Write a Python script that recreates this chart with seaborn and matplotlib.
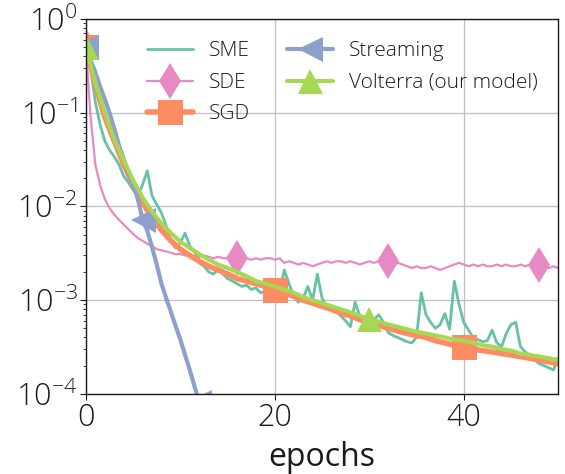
import numpy as np
import matplotlib
matplotlib.use("Agg")
import matplotlib.pyplot as plt
import seaborn as sns

# epochs sampled every half epoch (streaming only runs to 12.5)
epochs = np.arange(0, 50.5, 0.5)
epochs_stream = np.arange(0, 13.0, 0.5)
epochs_coarse = np.arange(0, 51, 1)

sme = [0.5, 0.3, 0.13, 0.075, 0.05, 0.04, 0.034, 0.028, 0.021, 0.018,
       0.015, 0.013, 0.017, 0.024, 0.013, 0.0105, 0.0085, 0.0062, 0.0042, 0.0036,
       0.0041, 0.0052, 0.0038, 0.0033, 0.0025, 0.0023, 0.002, 0.0019, 0.0021, 0.0019,
       0.0017, 0.0016, 0.0015, 0.0014, 0.00145, 0.0013, 0.00135, 0.0012, 0.00125, 0.0012,
       0.00115, 0.0012, 0.0021, 0.0015, 0.0011, 0.00095, 0.00105, 0.0014, 0.001, 0.0019,
       0.00105, 0.00085, 0.0008, 0.00075, 0.00068, 0.0006, 0.00052, 0.00095, 0.00068, 0.0006,
       0.00056, 0.00062, 0.0007, 0.00058, 0.00045, 0.00042, 0.0004, 0.00038, 0.00036, 0.00035,
       0.0004, 0.0012, 0.0007, 0.00058, 0.0005, 0.00055, 0.00072, 0.00049, 0.0016, 0.0009,
       0.00058, 0.00048, 0.0004, 0.00038, 0.00036, 0.00037, 0.00048, 0.00035, 0.00032, 0.00044,
       0.00055, 0.00058, 0.00032, 0.00028, 0.00026, 0.00023, 0.00021, 0.0002, 0.00019, 0.00018,
       0.00024]

sde = [0.5, 0.09, 0.028, 0.017, 0.012, 0.0096, 0.0082, 0.0072, 0.0064, 0.0057,
       0.0051, 0.0046, 0.0043, 0.0040, 0.0038, 0.0035, 0.0034, 0.0033, 0.0032, 0.0031,
       0.0031, 0.0030, 0.0030, 0.0029, 0.0029, 0.0030, 0.0029, 0.0028, 0.0029, 0.0028,
       0.0028, 0.0029, 0.0028, 0.0027, 0.0028, 0.0027, 0.0028, 0.0027, 0.0028, 0.0028,
       0.0027, 0.0028, 0.0025, 0.0026, 0.0025, 0.0024, 0.0025, 0.0024, 0.0023, 0.0024,
       0.0025, 0.0026, 0.0025, 0.0026, 0.0026, 0.0025, 0.0026, 0.0025, 0.0024, 0.0025,
       0.0026, 0.0025, 0.0026, 0.0026, 0.0026, 0.0025, 0.0025, 0.0024, 0.0023, 0.0022,
       0.0023, 0.0022, 0.0022, 0.0023, 0.0022, 0.0021, 0.0022, 0.0023, 0.0024, 0.0025,
       0.0024, 0.0023, 0.0024, 0.0023, 0.0024, 0.0023, 0.0023, 0.0024, 0.0023, 0.0024,
       0.0023, 0.0023, 0.0024, 0.0023, 0.0024, 0.0023, 0.0024, 0.0023, 0.0022, 0.0023,
       0.0022]

sgd = [0.5, 0.2, 0.09, 0.05, 0.028, 0.017, 0.011, 0.0075, 0.0056, 0.0043,
       0.0035, 0.003, 0.0026, 0.0023, 0.0021, 0.0019, 0.0017, 0.0016, 0.0015, 0.0014,
       0.00128, 0.0012, 0.0011, 0.001, 0.00093, 0.00086, 0.0008, 0.00073, 0.00068, 0.00062,
       0.00058, 0.00054, 0.0005, 0.00047, 0.00044, 0.00042, 0.0004, 0.00037, 0.00035, 0.00033,
       0.000315, 0.0003, 0.00029, 0.00028, 0.00027, 0.00026, 0.00025, 0.00024, 0.00023, 0.00022,
       0.00021]

streaming = [0.5, 0.36, 0.27, 0.19, 0.14, 0.1, 0.068, 0.045, 0.032, 0.023,
             0.017, 0.012, 0.0072, 0.0055, 0.0037, 0.0024, 0.0015, 0.00105, 0.00075, 0.00053,
             0.00038, 0.00026, 0.00018, 0.00012, 0.000082, 0.00006]

volterra = [0.5, 0.21, 0.1, 0.052, 0.031, 0.019, 0.0125, 0.0088, 0.0066, 0.0052,
            0.0042, 0.0036, 0.0031, 0.0027, 0.0024, 0.0022, 0.002, 0.0018, 0.0016, 0.0015,
            0.0014, 0.0013, 0.0012, 0.00108, 0.001, 0.00093, 0.00086, 0.0008, 0.00074, 0.00068,
            0.00063, 0.00059, 0.00055, 0.00052, 0.00049, 0.00046, 0.00044, 0.00042, 0.0004, 0.00038,
            0.00037, 0.00035, 0.00033, 0.00032, 0.0003, 0.00029, 0.00027, 0.00026, 0.00025, 0.00024,
            0.00023]

pal = sns.color_palette("Set2")

sns.set_style("whitegrid", {"axes.edgecolor": "0.1", "grid.color": "0.75",
                            "xtick.bottom": True, "ytick.left": True,
                            "text.color": "0.1", "axes.labelcolor": "0.1",
                            "xtick.color": "0.1", "ytick.color": "0.1"})
plt.rcParams["font.family"] = ["Open Sans", "DejaVu Sans"]
plt.rcParams["font.weight"] = "light"

fig, ax = plt.subplots(figsize=(5.65, 4.74), dpi=100)
fig.subplots_adjust(left=0.152, right=0.988, bottom=0.169, top=0.96)

ms = 18
sns.lineplot(x=epochs, y=sme, ax=ax, color=pal[0], lw=2, label="SME")
sns.lineplot(x=epochs, y=sde, ax=ax, color=pal[3], lw=1.6, marker="d",
             markevery=32, markersize=ms, markeredgewidth=0, label="SDE")
sns.lineplot(x=epochs_coarse, y=sgd, ax=ax, color=pal[1], lw=4, marker="s",
             markevery=20, markersize=ms, markeredgewidth=0, label="SGD")
sns.lineplot(x=epochs_stream, y=streaming, ax=ax, color=pal[2], lw=3, marker="<",
             markevery=12, markersize=ms, markeredgewidth=0, label="Streaming")
sns.lineplot(x=epochs_coarse, y=volterra, ax=ax, color=pal[4], lw=3, marker="^",
             markevery=30, markersize=ms, markeredgewidth=0, label="Volterra (our model)")

ax.set_yscale("log")
ax.set_ylim(1e-4, 1)
ax.set_xlim(0, 50)
ax.set_xticks([0, 20, 40])
ax.set_xlabel("epochs", fontsize=23, labelpad=5)
ax.set_ylabel("")
ax.tick_params(axis="both", which="major", labelsize=22, length=4, width=0.8, pad=2)
ax.tick_params(axis="y", which="minor", length=2, width=0.6, left=True)
ax.grid(True, which="major", color="0.75", lw=0.9)
ax.grid(False, which="minor")
for s in ax.spines.values():
    s.set_linewidth(1.0)

ax.legend(ncol=2, frameon=False, fontsize=15, loc="upper left",
          bbox_to_anchor=(0.09, 0.99), handlelength=2.2, handletextpad=0.75,
          columnspacing=1.8, labelspacing=0.55)

fig.savefig("out.png", dpi=100)
